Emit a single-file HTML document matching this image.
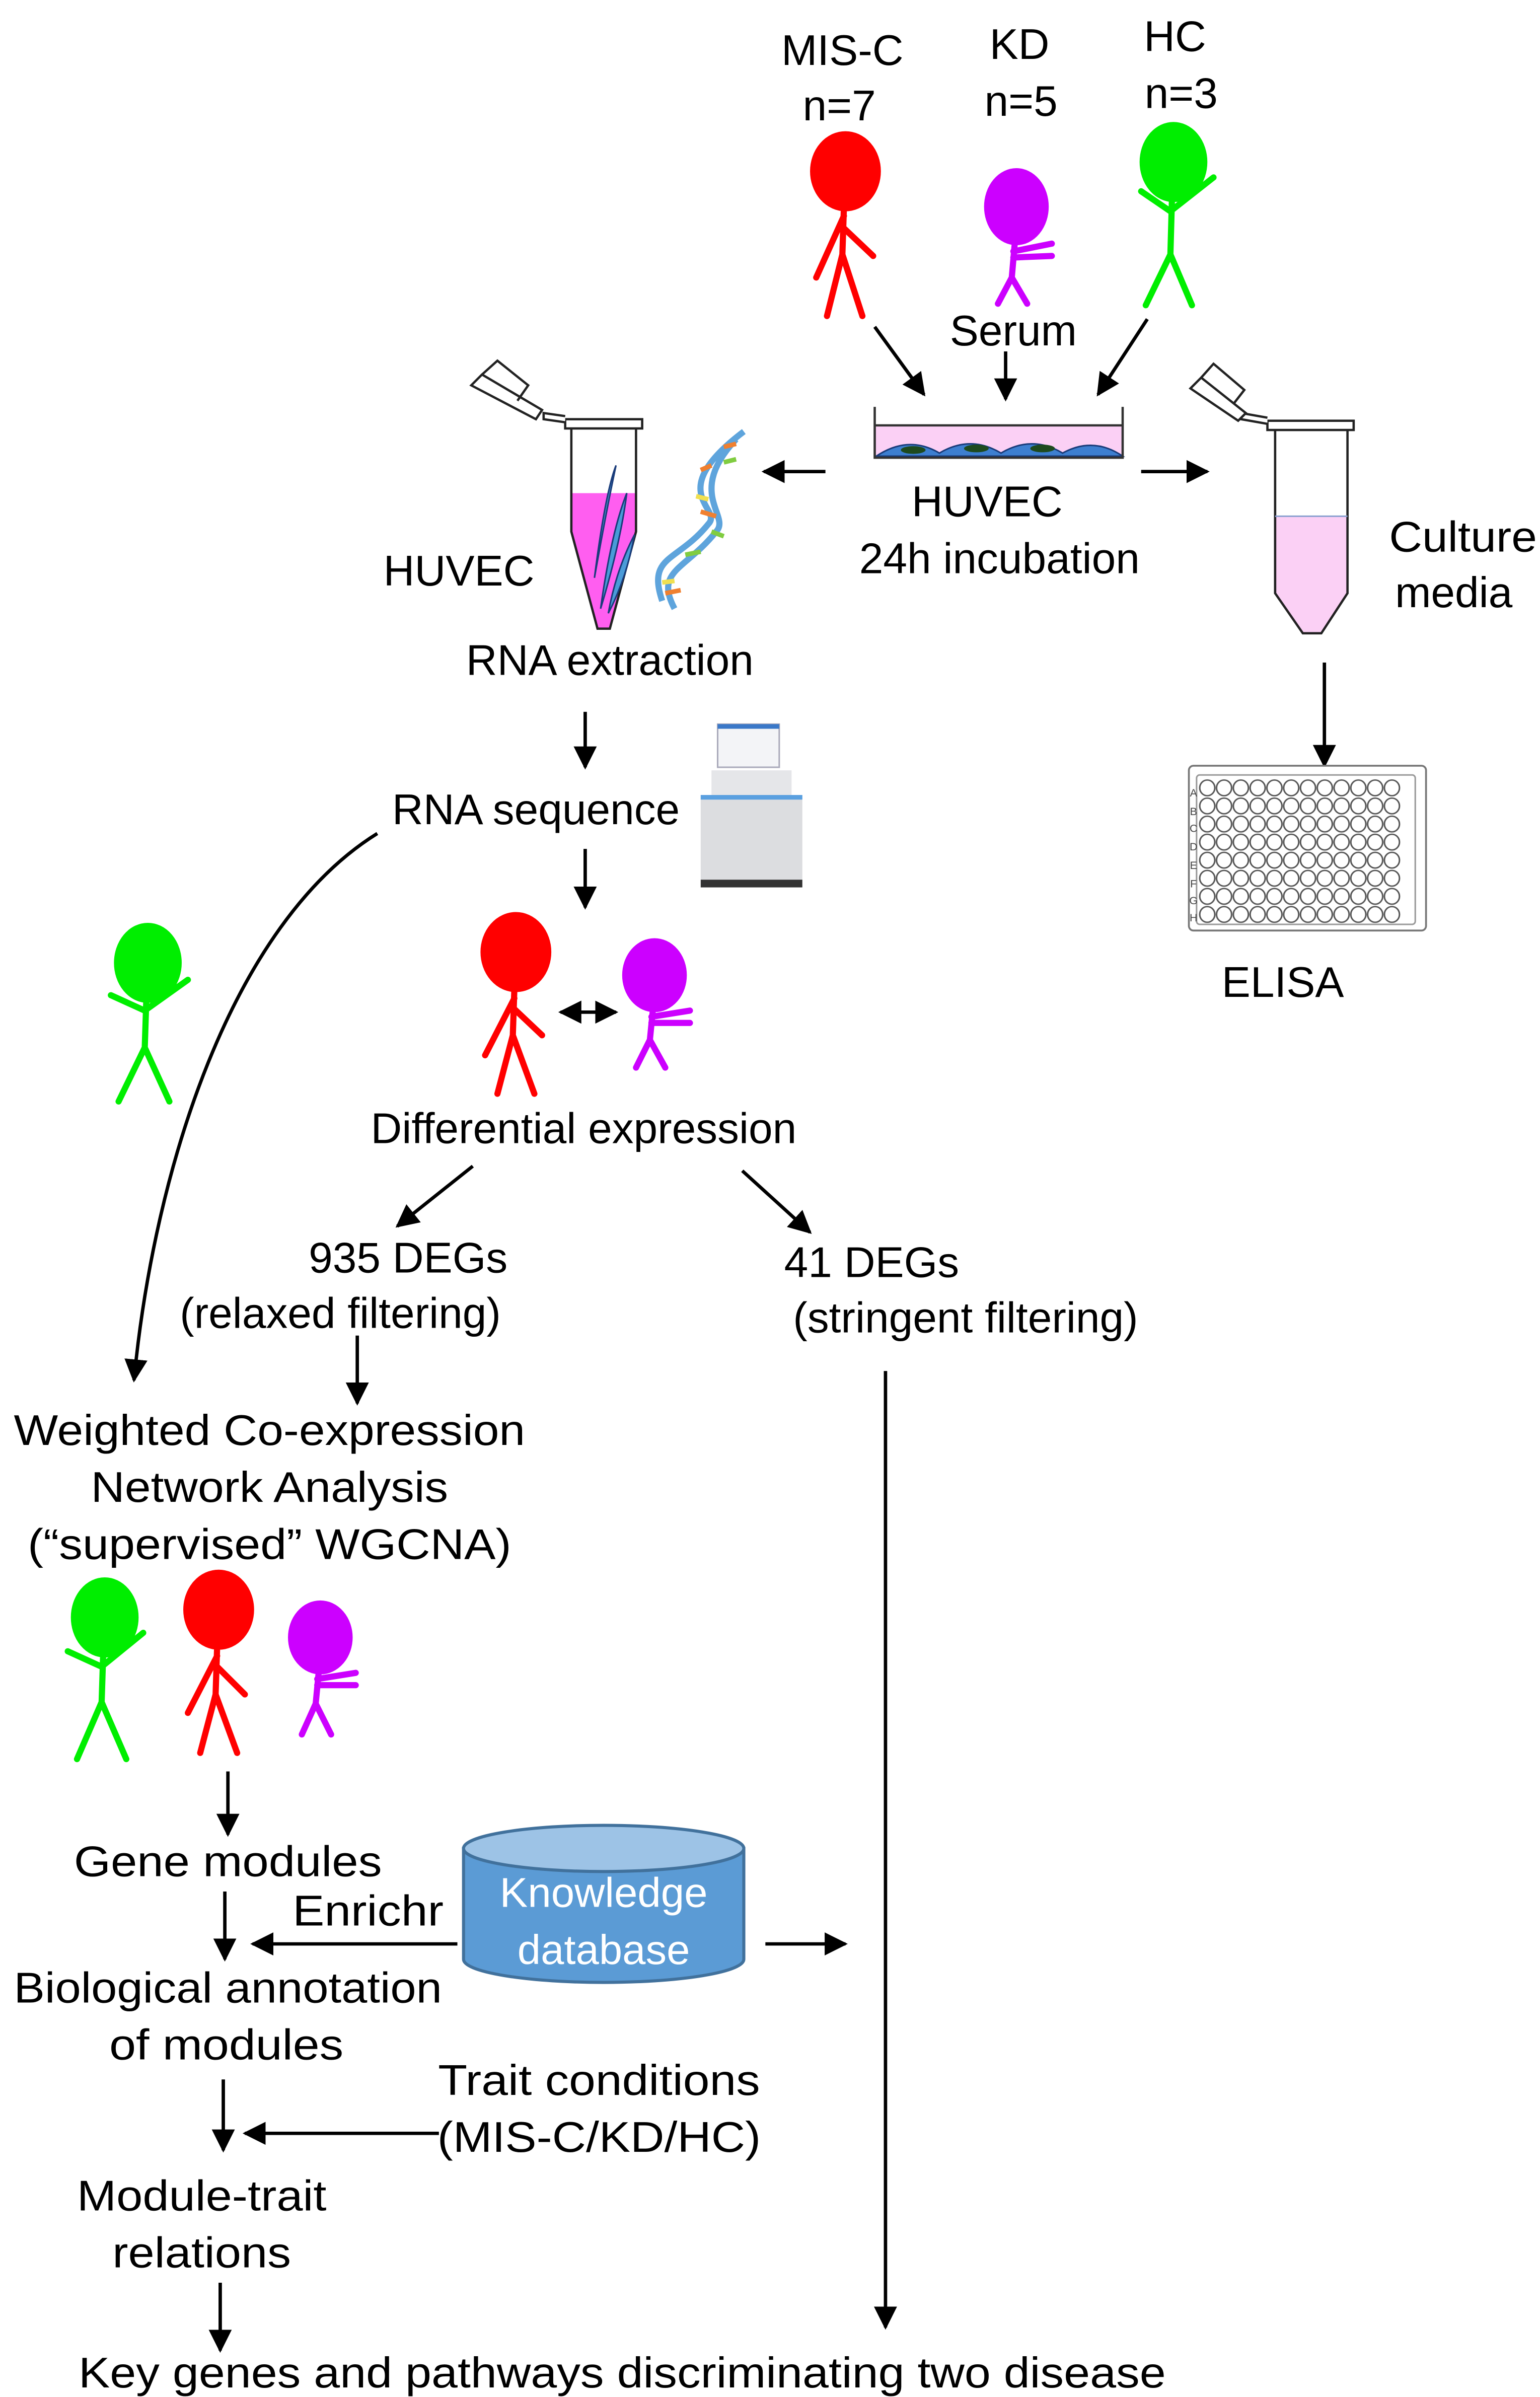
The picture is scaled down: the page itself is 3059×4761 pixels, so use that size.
<!DOCTYPE html>
<html><head><meta charset="utf-8"><style>html,body{margin:0;padding:0;background:#fff}svg{display:block}</style></head>
<body>
<svg width="3059" height="4761" viewBox="0 0 1000 1556" xmlns="http://www.w3.org/2000/svg" font-family="'Liberation Sans', Arial, sans-serif" font-size="28">
<defs>
<marker id="ah" viewBox="0 0 10 10" refX="9" refY="5" markerWidth="15" markerHeight="15" orient="auto-start-reverse" markerUnits="userSpaceOnUse"><path d="M0,0 L10,5 L0,10 z" fill="#000"/></marker>
<pattern id="wells" x="778.5" y="505.5" width="10.9" height="12.9" patternUnits="userSpaceOnUse"><ellipse cx="5.45" cy="6.45" rx="4.9" ry="5.6" fill="#fff" stroke="#555" stroke-width="1"/></pattern>
</defs>
<rect width="1000" height="1556" fill="#fff"/>
<g stroke="#000" stroke-width="2.2" fill="none" marker-end="url(#ah)">
<line x1="568" y1="212" x2="600" y2="256"/>
<line x1="653" y1="228" x2="653" y2="259"/>
<line x1="745" y1="207" x2="713" y2="256"/>
<line x1="536" y1="306" x2="496" y2="306"/>
<line x1="741" y1="306" x2="784" y2="306"/>
<line x1="860" y1="430" x2="860" y2="497"/>
<line x1="380" y1="462" x2="380" y2="498"/>
<line x1="380" y1="551" x2="380" y2="589"/>
<line x1="307" y1="757" x2="258" y2="796"/>
<line x1="482" y1="760" x2="526" y2="800"/>
<line x1="232" y1="867" x2="232" y2="911"/>
<path d="M245,541 C150,600 100,760 87,896"/>
<line x1="148" y1="1150" x2="148" y2="1191"/>
<line x1="146" y1="1228" x2="146" y2="1272"/>
<line x1="297" y1="1262" x2="164" y2="1262"/>
<line x1="497" y1="1262" x2="549" y2="1262"/>
<line x1="145" y1="1350" x2="145" y2="1396"/>
<line x1="285" y1="1385" x2="159" y2="1385"/>
<line x1="143" y1="1482" x2="143" y2="1526"/>
<line x1="575" y1="890" x2="575" y2="1511"/>
</g>
<line x1="364" y1="657" x2="400" y2="657" stroke="#000" stroke-width="2.2" marker-end="url(#ah)" marker-start="url(#ah)"/>

<g stroke-width="4" fill="none" stroke-linecap="round">
<g stroke="#ff0000"><ellipse cx="549" cy="111" rx="21" ry="24" fill="#ff0000"/><path d="M548,134 L547,165 M548,140 L530,180 M548,148 L567,166 M547,165 L537,205 M547,165 L560,205"/></g>
<g stroke="#cc00ff"><ellipse cx="660" cy="134" rx="19" ry="23" fill="#cc00ff"/><path d="M659,157 L657,180 M658,163 L683,158 M658,167 L683,166 M657,180 L648,197 M657,180 L667,197"/></g>
<g stroke="#00ee00"><ellipse cx="762" cy="105" rx="20" ry="24" fill="#00ee00"/><path d="M761,129 L760,165 M760,137 L741,124 M760,137 L788,115 M760,165 L744,198 M760,165 L774,198"/></g>
</g>
<g stroke-width="4" fill="none" stroke-linecap="round">
<g stroke="#ff0000"><ellipse cx="335" cy="618" rx="21" ry="24" fill="#ff0000"/><path d="M334,642 L333,672 M334,648 L315,685 M334,655 L352,672 M333,672 L323,710 M333,672 L347,710"/></g>
<g stroke="#cc00ff"><ellipse cx="425" cy="633" rx="19" ry="22" fill="#cc00ff"/><path d="M424,655 L422,675 M423,660 L448,656 M423,664 L448,664 M422,675 L413,693 M422,675 L432,693"/></g>
<g stroke="#00ee00"><ellipse cx="96" cy="625" rx="20" ry="24" fill="#00ee00"/><path d="M95,649 L94,680 M94,656 L72,646 M94,656 L122,636 M94,680 L77,715 M94,680 L110,715"/></g>
</g>
<g stroke-width="4" fill="none" stroke-linecap="round">
<g stroke="#00ee00"><ellipse cx="68" cy="1050" rx="20" ry="24" fill="#00ee00"/><path d="M67,1074 L66,1105 M66,1082 L44,1072 M66,1082 L93,1060 M66,1105 L50,1142 M66,1105 L82,1142"/></g>
<g stroke="#ff0000"><ellipse cx="142" cy="1045" rx="21" ry="24" fill="#ff0000"/><path d="M141,1069 L140,1100 M141,1075 L122,1112 M141,1082 L159,1100 M140,1100 L130,1138 M140,1100 L154,1138"/></g>
<g stroke="#cc00ff"><ellipse cx="208" cy="1063" rx="19" ry="22" fill="#cc00ff"/><path d="M207,1085 L205,1106 M206,1090 L231,1086 M206,1094 L231,1094 M205,1106 L196,1126 M205,1106 L215,1126"/></g>
</g>

<!-- dish -->
<rect x="568" y="276" width="161" height="21" fill="#fbd0f5"/>
<path d="M569,296 Q590,282 610,294 Q630,282 650,294 Q670,282 690,294 Q710,283 729,296 Z" fill="#3d7fd0" stroke="#1a3c7a" stroke-width="1"/>
<ellipse cx="593" cy="292" rx="8" ry="2.5" fill="#1e4a1e"/><ellipse cx="634" cy="291" rx="8" ry="2.5" fill="#1e4a1e"/><ellipse cx="677" cy="291" rx="8" ry="2.5" fill="#1e4a1e"/>
<path d="M568,264 L568,297 L729,297 L729,264 M568,276 L729,276" stroke="#333" stroke-width="1.5" fill="none"/>

<!-- right tube -->
<g stroke="#222" stroke-width="1.5">
<path d="M828,335 L875,335 L875,385 L858,411 L846,411 L828,385 Z" fill="#fbd0f5" stroke="none"/>
<path d="M828,279 L828,385 L846,411 L858,411 L875,385 L875,279" fill="none"/>
<line x1="828" y1="335" x2="875" y2="335" stroke="#8aa0d0" stroke-width="1"/>
<rect x="823" y="273" width="56" height="6" fill="#fff"/>
<path d="M823,275 L806,272 L806,268 L823,271" fill="#fff"/>
<path d="M773,252 L780,245 L809,268 L804,273 Z M780,245 L788,236 L808,253 L801,262" fill="#fff"/>
</g>

<!-- left tube -->
<g stroke="#222" stroke-width="1.5">
<path d="M371,320 L413,320 L413,345 L396,408 L388,408 L371,345 Z" fill="#ff5ef0" stroke="none"/>
<path d="M371,278 L371,345 L388,408 L396,408 L413,345 L413,278" fill="none"/>
<rect x="367" y="272" width="50" height="6" fill="#fff"/>
<path d="M367,274 L353,272 L353,268 L367,270" fill="#fff"/>
<path d="M306,250 L313,243 L352,266 L348,272 Z M313,243 L323,234 L343,250 L336,260" fill="#fff"/>
<path d="M386,375 Q393,320 400,302 Q394,330 386,375 Z" fill="#4a9bd8" stroke="#1a3c7a" stroke-width="1"/>
<path d="M390,395 Q397,345 407,320 Q403,352 390,395 Z" fill="#4a9bd8" stroke="#1a3c7a" stroke-width="1"/>
<path d="M395,398 Q400,370 412,347 Q407,375 395,398 Z" fill="#4a9bd8" stroke="#1a3c7a" stroke-width="1"/>
</g>
<path d="M483,280 C430,320 470,330 460,340 C440,365 420,360 430,390 M478,285 C445,320 475,335 465,345 C445,370 425,370 438,395" stroke="#5ea4dc" stroke-width="4" fill="none"/>
<g stroke-width="3"><line x1="470" y1="290" x2="478" y2="288" stroke="#f08030"/><line x1="455" y1="305" x2="462" y2="302" stroke="#f08030"/><line x1="470" y1="300" x2="478" y2="298" stroke="#80cc40"/><line x1="452" y1="322" x2="460" y2="324" stroke="#f0e050"/><line x1="455" y1="332" x2="465" y2="335" stroke="#f08030"/><line x1="462" y1="345" x2="470" y2="348" stroke="#80cc40"/><line x1="445" y1="360" x2="455" y2="358" stroke="#80cc40"/><line x1="430" y1="378" x2="438" y2="377" stroke="#f0e050"/><line x1="432" y1="385" x2="442" y2="383" stroke="#f08030"/></g>

<rect x="466" y="470" width="40" height="28" fill="#f3f4f7" stroke="#aab" stroke-width="1"/>
<rect x="466" y="470" width="40" height="3" fill="#3a78c8"/>
<rect x="462" y="500" width="52" height="16" fill="#e5e6e9"/>
<rect x="455" y="516" width="66" height="56" fill="#dcdde0"/>
<rect x="455" y="516" width="66" height="3" fill="#5aa0e0"/>
<rect x="455" y="571" width="66" height="5" fill="#333"/>

<rect x="772" y="497" width="154" height="107" rx="3" fill="#fff" stroke="#777" stroke-width="1.2"/>
<rect x="777" y="503" width="142" height="97" rx="2" fill="none" stroke="#999" stroke-width="1"/>
<rect x="778.5" y="505.5" width="130.8" height="103.2" fill="url(#wells)" transform="scale(1,0.91) translate(0,50)"/>
<g font-size="7" fill="#444" text-anchor="middle"><text x="775" y="517">A</text><text x="775" y="529">B</text><text x="775" y="540">C</text><text x="775" y="552">D</text><text x="775" y="564">E</text><text x="775" y="576">F</text><text x="775" y="587">G</text><text x="775" y="598">H</text></g>

<path d="M301,1200 L301,1272 A91,15 0 0 0 483,1272 L483,1200 Z" fill="#5b9bd5" stroke="#41719c" stroke-width="2"/>
<ellipse cx="392" cy="1200" rx="91" ry="15" fill="#9dc3e6" stroke="#41719c" stroke-width="2"/>
<g fill="#fff" font-size="27" text-anchor="middle"><text x="392" y="1238" textLength="135" lengthAdjust="spacingAndGlyphs">Knowledge</text><text x="392" y="1275" textLength="112" lengthAdjust="spacingAndGlyphs">database</text></g>

<g fill="#000" text-anchor="middle">
<text x="547" y="42">MIS-C</text><text x="545" y="78">n=7</text>
<text x="662" y="38">KD</text><text x="663" y="75">n=5</text>
<text x="763" y="33">HC</text><text x="767" y="70">n=3</text>
<text x="658" y="224">Serum</text>
<text x="641" y="335">HUVEC</text><text x="649" y="372">24h incubation</text>
<text x="950" y="358" textLength="96" lengthAdjust="spacingAndGlyphs">Culture</text><text x="944" y="394">media</text>
<text x="833" y="647">ELISA</text>
<text x="298" y="380">HUVEC</text>
<text x="396" y="438">RNA extraction</text>
<text x="348" y="535">RNA sequence</text>
<text x="379" y="742">Differential expression</text>
<text x="265" y="826">935 DEGs</text><text x="221" y="862">(relaxed filtering)</text>
<text x="566" y="829">41 DEGs</text><text x="627" y="865">(stringent filtering)</text>
<text x="175" y="938" textLength="332" lengthAdjust="spacingAndGlyphs">Weighted Co-expression</text>
<text x="175" y="975" textLength="232" lengthAdjust="spacingAndGlyphs">Network Analysis</text>
<text x="175" y="1012" textLength="314" lengthAdjust="spacingAndGlyphs">(“supervised” WGCNA)</text>
<text x="148" y="1218" textLength="200" lengthAdjust="spacingAndGlyphs">Gene modules</text>
<text x="239" y="1250" textLength="98" lengthAdjust="spacingAndGlyphs">Enrichr</text>
<text x="148" y="1300" textLength="278" lengthAdjust="spacingAndGlyphs">Biological annotation</text>
<text x="147" y="1337" textLength="152" lengthAdjust="spacingAndGlyphs">of modules</text>
<text x="389" y="1360" textLength="209" lengthAdjust="spacingAndGlyphs">Trait conditions</text>
<text x="389" y="1397" textLength="210" lengthAdjust="spacingAndGlyphs">(MIS-C/KD/HC)</text>
<text x="131" y="1435" textLength="162" lengthAdjust="spacingAndGlyphs">Module-trait</text>
<text x="131" y="1472" textLength="116" lengthAdjust="spacingAndGlyphs">relations</text>
<text x="404" y="1550" textLength="706" lengthAdjust="spacingAndGlyphs">Key genes and pathways discriminating two disease</text>
</g>
</svg>
</body></html>
